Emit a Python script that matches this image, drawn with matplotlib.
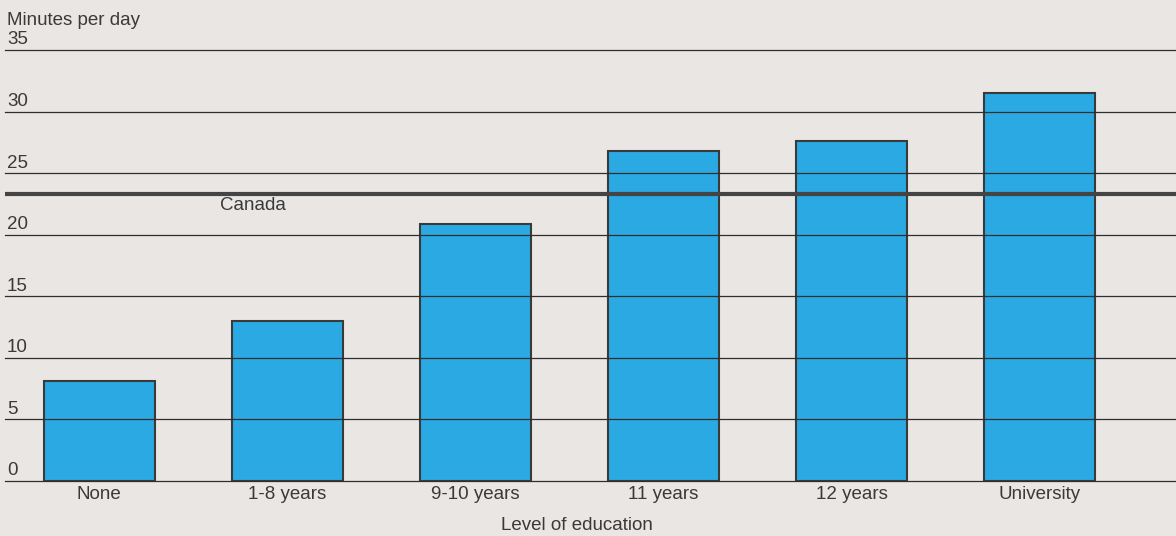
import matplotlib.pyplot as plt

# data
levels = ['None', '1-8 years', '9-10 years', '11 years', '12 years', 'University']
minutes = [8.1, 13.0, 20.9, 26.8, 27.6, 31.5]
canada_avg = 23.3
yticks = [0, 5, 10, 15, 20, 25, 30, 35]

bg = '#e9e6e3'
bar_col = '#2aa9e2'
ink = '#3a3a3a'
fs = 13.5

plt.rcParams['font.family'] = ['Liberation Sans', 'DejaVu Sans']

fig = plt.figure(figsize=(11.76, 5.36), dpi=100, facecolor=bg)
ax = fig.add_axes([0.004, 0.1026, 0.996, 0.8041])
ax.set_facecolor(bg)

x = range(len(levels))
ax.bar(x, minutes, width=0.59, color=bar_col, edgecolor=ink, linewidth=1.5, zorder=2)

# horizontal rules drawn over the bars, labels sit above each rule
for t in yticks:
    ax.axhline(t, color='#2e2e2e', linewidth=0.9, zorder=3, clip_on=False)
    ax.text(0.002, t + 0.45, str(t), transform=ax.get_yaxis_transform(),
            ha='left', va='baseline', fontsize=fs, color=ink)

# national average
ax.axhline(canada_avg, color='#444444', linewidth=3, zorder=4)
ax.text(0.816, 22.0, 'Canada', ha='center', va='baseline', fontsize=fs, color=ink)

for i, lab in enumerate(levels):
    ax.text(i, -1.5, lab, ha='center', va='baseline', fontsize=fs, color=ink)
ax.text(2.54, -3.95, 'Level of education', ha='center', va='baseline', fontsize=fs, color=ink)

fig.text(0.006, 0.953, 'Minutes per day', ha='left', va='baseline', fontsize=fs, color=ink)

ax.set_xlim(-0.503, 5.726)
ax.set_ylim(0, 35)
ax.set_xticks([])
ax.set_yticks([])
for s in ax.spines.values():
    s.set_visible(False)

fig.savefig('out.png', dpi=100, facecolor=bg)
